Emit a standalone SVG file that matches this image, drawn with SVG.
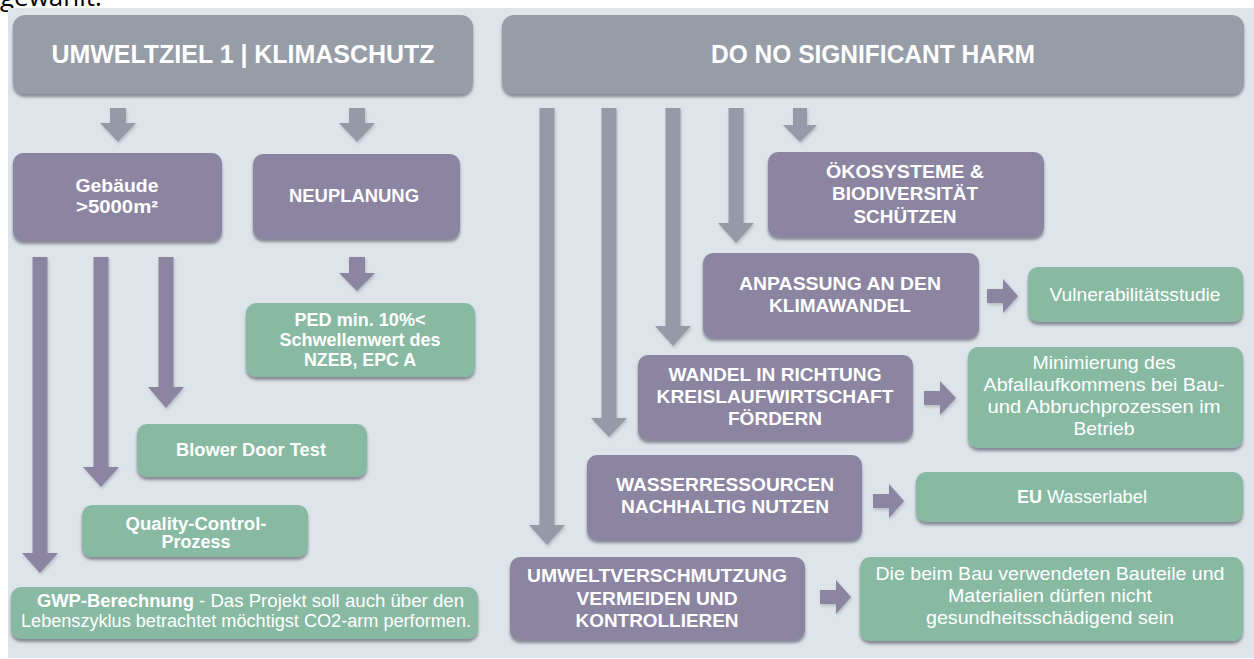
<svg xmlns="http://www.w3.org/2000/svg" width="1254" height="659" viewBox="0 0 1254 659">
<defs>
<filter id="sh" x="-5%" y="-10%" width="110%" height="135%">
<feDropShadow dx="0" dy="3" stdDeviation="1.4" flood-color="#3c4150" flood-opacity="0.55"/>
</filter>
<filter id="ash" x="-30%" y="-5%" width="160%" height="115%">
<feDropShadow dx="1" dy="2" stdDeviation="1.5" flood-color="#5a6070" flood-opacity="0.3"/>
</filter>
</defs>
<style>
.bg{fill:#DDE4EA}
.hdr{fill:#979DA7;filter:url(#sh)}
.pur{fill:#8C85A1;filter:url(#sh)}
.grn{fill:#88BAA3;filter:url(#sh)}
.t{font-family:"Liberation Sans",Arial,sans-serif;fill:#FFFFFF;text-anchor:middle}
.s{text-anchor:start}
.b{font-weight:bold}
.h{font-size:25px}
.p{font-size:18px}
.g{font-size:19px}
.gr{font-size:18px}
.ga{fill:#959BA6;filter:url(#ash)}
.pa{fill:#8C85A1;filter:url(#ash)}
</style>
<text x="0" y="6" font-family="'Open Sans','Noto Sans',sans-serif" font-size="26" fill="#000">gewählt.</text>
<rect class="bg" x="8" y="8" width="1246" height="650"/>

<g id="connectors">
<polygon class="ga" points="110,108 126,108 126,123 136,123 118,142 100,123 110,123"/>
<polygon class="ga" points="349,108 365,108 365,123 375,123 357,142 339,123 349,123"/>
<polygon class="pa" points="349,257 365,257 365,273 375,273 357,291 339,273 349,273"/>
<polygon class="pa" points="32.5,257 47.5,257 47.5,553 58,553 40,573 22,553 32.5,553"/>
<polygon class="pa" points="93.5,257 108.5,257 108.5,467 119,467 101,487 83,467 93.5,467"/>
<polygon class="pa" points="158.5,257 173.5,257 173.5,387 184,387 166,408 148,387 158.5,387"/>
<polygon class="ga" points="539.5,108 554.5,108 554.5,525 565,525 547,545 529,525 539.5,525"/>
<polygon class="ga" points="601.5,108 616.5,108 616.5,418 627,418 609,437 591,418 601.5,418"/>
<polygon class="ga" points="665.5,108 680.5,108 680.5,326 691,326 673,346 655,326 665.5,326"/>
<polygon class="ga" points="728.5,108 743.5,108 743.5,223 754,223 736,243 718,223 728.5,223"/>
<polygon class="ga" points="793,108 807,108 807,125 817,125 800,142 783,125 793,125"/>
<polygon class="pa" points="987,289 1003,289 1003,279 1018,296 1003,313 1003,303 987,303"/>
<polygon class="pa" points="924,391 940,391 940,381 956,398 940,415 940,405 924,405"/>
<polygon class="pa" points="873,494 889,494 889,484 904,501 889,518 889,508 873,508"/>
<polygon class="pa" points="820,590 836,590 836,580 851,597 836,614 836,604 820,604"/>
</g>

<g id="n_hdr1">
<rect class="hdr" x="13" y="15" width="460" height="79" rx="12"/>
<text class="t b h" x="243" y="63" textLength="383" lengthAdjust="spacingAndGlyphs">UMWELTZIEL 1 | KLIMASCHUTZ</text>
</g>
<g id="n_hdr2">
<rect class="hdr" x="502" y="15" width="742" height="79" rx="12"/>
<text class="t b h" x="873" y="63" textLength="324" lengthAdjust="spacingAndGlyphs">DO NO SIGNIFICANT HARM</text>
</g>
<g id="n_geb">
<rect class="pur" x="13" y="153" width="209" height="88" rx="10"/>
<text class="t b p" x="117" y="192" textLength="83" lengthAdjust="spacingAndGlyphs">Gebäude</text>
<text class="t b p" x="117" y="213" textLength="82" lengthAdjust="spacingAndGlyphs">&gt;5000m²</text>
</g>
<g id="n_neu">
<rect class="pur" x="253" y="154" width="207" height="85" rx="10"/>
<text class="t b p" x="354" y="202" textLength="130" lengthAdjust="spacingAndGlyphs">NEUPLANUNG</text>
</g>
<g id="n_ped">
<rect class="grn" x="246" y="303" width="229" height="74" rx="10"/>
<text class="t b p" x="360" y="326" textLength="131" lengthAdjust="spacingAndGlyphs">PED min. 10%&lt;</text>
<text class="t b p" x="360" y="346" textLength="161" lengthAdjust="spacingAndGlyphs">Schwellenwert des</text>
<text class="t b p" x="360" y="366" textLength="112" lengthAdjust="spacingAndGlyphs">NZEB, EPC A</text>
</g>
<g id="n_blow">
<rect class="grn" x="137" y="424" width="230" height="53" rx="10"/>
<text class="t b p" x="251" y="456" textLength="150" lengthAdjust="spacingAndGlyphs">Blower Door Test</text>
</g>
<g id="n_qual">
<rect class="grn" x="82" y="505" width="226" height="52" rx="10"/>
<text class="t b p" x="196" y="530" textLength="141" lengthAdjust="spacingAndGlyphs">Quality-Control-</text>
<text class="t b p" x="196" y="548" textLength="69" lengthAdjust="spacingAndGlyphs">Prozess</text>
</g>
<g id="n_gwp">
<rect class="grn" x="11" y="587" width="467" height="52" rx="10"/>
<text class="t s b gr" x="37" y="607" textLength="157" lengthAdjust="spacingAndGlyphs">GWP-Berechnung</text>
<text class="t s gr" x="199" y="607" textLength="265" lengthAdjust="spacingAndGlyphs">- Das Projekt soll auch über den</text>
<text class="t gr" x="246" y="627" textLength="450" lengthAdjust="spacingAndGlyphs">Lebenszyklus betrachtet möchtigst CO2-arm performen.</text>
</g>
<g id="n_oeko">
<rect class="pur" x="768" y="152" width="276" height="85" rx="10"/>
<text class="t b p" x="905" y="178" textLength="158" lengthAdjust="spacingAndGlyphs">ÖKOSYSTEME &amp;</text>
<text class="t b p" x="905" y="200" textLength="146" lengthAdjust="spacingAndGlyphs">BIODIVERSITÄT</text>
<text class="t b p" x="905" y="223" textLength="103" lengthAdjust="spacingAndGlyphs">SCHÜTZEN</text>
</g>
<g id="n_anp">
<rect class="pur" x="703" y="253" width="276" height="85" rx="10"/>
<text class="t b p" x="840" y="290" textLength="202" lengthAdjust="spacingAndGlyphs">ANPASSUNG AN DEN</text>
<text class="t b p" x="840" y="312" textLength="142" lengthAdjust="spacingAndGlyphs">KLIMAWANDEL</text>
</g>
<g id="n_vul">
<rect class="grn" x="1028" y="267" width="215" height="55" rx="10"/>
<text class="t g" x="1135" y="301" textLength="171" lengthAdjust="spacingAndGlyphs">Vulnerabilitätsstudie</text>
</g>
<g id="n_wan">
<rect class="pur" x="638" y="355" width="275" height="85" rx="10"/>
<text class="t b p" x="775" y="381" textLength="213" lengthAdjust="spacingAndGlyphs">WANDEL IN RICHTUNG</text>
<text class="t b p" x="775" y="403" textLength="237" lengthAdjust="spacingAndGlyphs">KREISLAUFWIRTSCHAFT</text>
<text class="t b p" x="775" y="425" textLength="94" lengthAdjust="spacingAndGlyphs">FÖRDERN</text>
</g>
<g id="n_min">
<rect class="grn" x="968" y="347" width="275" height="101" rx="10"/>
<text class="t g" x="1104" y="369" textLength="143" lengthAdjust="spacingAndGlyphs">Minimierung des</text>
<text class="t g" x="1104" y="391" textLength="241" lengthAdjust="spacingAndGlyphs">Abfallaufkommens bei Bau-</text>
<text class="t g" x="1104" y="413" textLength="233" lengthAdjust="spacingAndGlyphs">und Abbruchprozessen im</text>
<text class="t g" x="1104" y="435" textLength="61" lengthAdjust="spacingAndGlyphs">Betrieb</text>
</g>
<g id="n_was">
<rect class="pur" x="587" y="455" width="275" height="85" rx="10"/>
<text class="t b p" x="725" y="491" textLength="218" lengthAdjust="spacingAndGlyphs">WASSERRESSOURCEN</text>
<text class="t b p" x="725" y="513" textLength="208" lengthAdjust="spacingAndGlyphs">NACHHALTIG NUTZEN</text>
</g>
<g id="n_eu">
<rect class="grn" x="916" y="472" width="327" height="50" rx="10"/>
<text class="t s b g" x="1017" y="503" textLength="25" lengthAdjust="spacingAndGlyphs">EU</text>
<text class="t s g" x="1047" y="503" textLength="100" lengthAdjust="spacingAndGlyphs">Wasserlabel</text>
</g>
<g id="n_umw">
<rect class="pur" x="510" y="557" width="295" height="83" rx="10"/>
<text class="t b p" x="657" y="582" textLength="260" lengthAdjust="spacingAndGlyphs">UMWELTVERSCHMUTZUNG</text>
<text class="t b p" x="657" y="605" textLength="161" lengthAdjust="spacingAndGlyphs">VERMEIDEN UND</text>
<text class="t b p" x="657" y="627" textLength="163" lengthAdjust="spacingAndGlyphs">KONTROLLIEREN</text>
</g>
<g id="n_die">
<rect class="grn" x="860" y="557" width="383" height="84" rx="10"/>
<text class="t g" x="1050" y="580" textLength="349" lengthAdjust="spacingAndGlyphs">Die beim Bau verwendeten Bauteile und</text>
<text class="t g" x="1050" y="602" textLength="204" lengthAdjust="spacingAndGlyphs">Materialien dürfen nicht</text>
<text class="t g" x="1050" y="624" textLength="248" lengthAdjust="spacingAndGlyphs">gesundheitsschädigend sein</text>
</g>
</svg>
